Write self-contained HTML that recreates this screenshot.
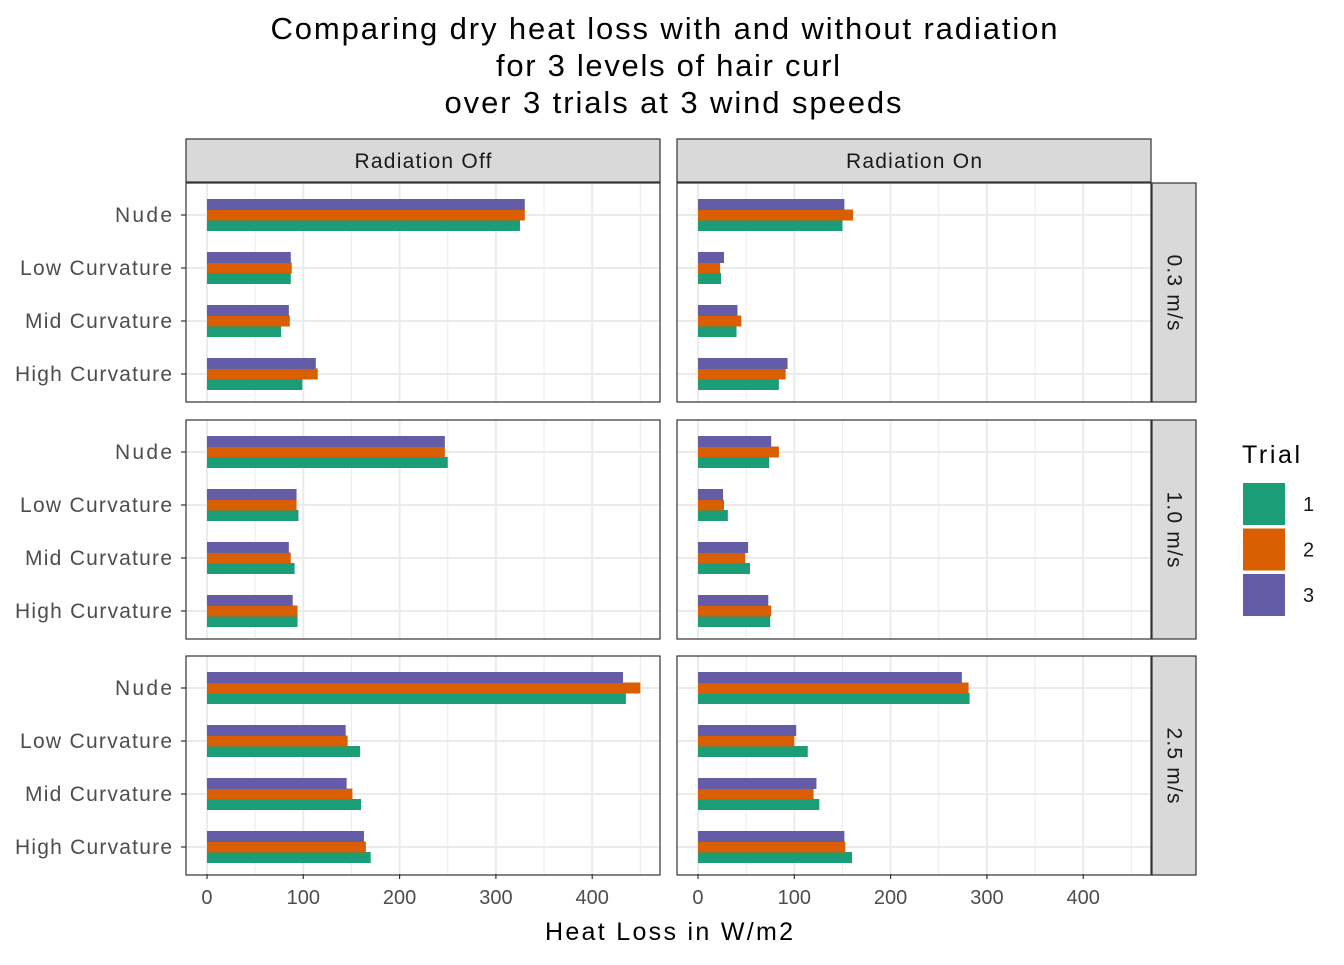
<!DOCTYPE html>
<html><head><meta charset="utf-8"><style>
body{margin:0;background:#fff}
svg{font-family:"Liberation Sans",Arial,sans-serif}
</style></head><body>
<svg id="c" width="1344" height="960" xmlns="http://www.w3.org/2000/svg">
<text x="664" y="39" font-size="31" text-anchor="middle" textLength="787">Comparing dry heat loss with and without radiation</text>
<text x="668" y="76" font-size="31" text-anchor="middle" textLength="344">for 3 levels of hair curl</text>
<text x="673" y="113" font-size="31" text-anchor="middle" textLength="457">over 3 trials at 3 wind speeds</text>
<text x="669" y="940" font-size="25" text-anchor="middle" textLength="248">Heat Loss in W/m2</text>
<text x="1242" y="463" font-size="25" textLength="58">Trial</text>
</svg>
<script>
const categories=["Nude","Low Curvature","Mid Curvature","High Curvature"];
const radiation=["Radiation Off","Radiation On"];
const speeds=["0.3 m/s","1.0 m/s","2.5 m/s"];
const trials=["1","2","3"];
const xTicks=[0,100,200,300,400];
const off03=[[325,87,77,99],[330,88,86,115],[330,87,85,113]];
const on03=[[150,24,40,84],[161,23,45,91],[152,27,41,93]];
const off10=[[250,95,91,94],[247,93,87,94],[247,93,85,89]];
const on10=[[74,31,54,75],[84,27,49,76],[76,26,52,73]];
const off25=[[435,159,160,170],[450,146,151,165],[432,144,145,163]];
const on25=[[282,114,126,160],[281,100,120,153],[274,102,123,152]];
const values=[[off03,on03],[off10,on10],[off25,on25]];
const colors=["#1B9E77","#D95F02","#655CA8"];

const svg=document.getElementById('c');
const NS="http://www.w3.org/2000/svg";
function mk(t,a,p){const e=document.createElementNS(NS,t);for(const k in a)e.setAttribute(k,a[k]);(p||svg).appendChild(e);return e;}
const colX=[186,677], panW=474;
const rowY=[183,420,656], panH=219;
const xMin=-21.8,xMax=470.4;
const labW={"Nude":57,"Low Curvature":152,"Mid Curvature":147,"High Curvature":157};
function xs(col,v){return colX[col]+(v-xMin)/(xMax-xMin)*panW;}
function ys(row,i){return rowY[row]+32+i*53;}

radiation.forEach((r,c)=>{
  const g=mk('g',{});
  
  
  mk('rect',{x:colX[c],y:139,width:panW,height:43,fill:'#D9D9D9',stroke:'#333','stroke-width':1.2},g);
  const t=mk('text',{x:colX[c]+panW/2,y:168,'font-size':21,'text-anchor':'middle',fill:'#1A1A1A',textLength:c?136:137},g);t.textContent=r;
});
speeds.forEach((s,r)=>{
  const g=mk('g',{});
  
  
  mk('rect',{x:1152,y:rowY[r],width:44,height:panH,fill:'#D9D9D9',stroke:'#333','stroke-width':1.2},g);
  const cx=1174,cy=rowY[r]+panH/2;
  const t=mk('text',{x:cx,y:cy,'font-size':21,'text-anchor':'middle','dominant-baseline':'central',fill:'#1A1A1A',textLength:76,transform:`rotate(90 ${cx} ${cy})`},g);t.textContent=s;
});

for(let r=0;r<3;r++)for(let c=0;c<2;c++){
  const g=mk('g',{});
  
  
  mk('rect',{x:colX[c],y:rowY[r],width:panW,height:panH,fill:'#fff'},g);
  for(let v=-50;v<=450;v+=50){
    const x=xs(c,v); if(x<colX[c]||x>colX[c]+panW)continue;
    mk('line',{x1:x,x2:x,y1:rowY[r],y2:rowY[r]+panH,stroke:'#EBEBEB','stroke-width':v%100===0?2:1},g);
  }
  categories.forEach((k,i)=>mk('line',{x1:colX[c],x2:colX[c]+panW,y1:ys(r,i),y2:ys(r,i),stroke:'#EBEBEB','stroke-width':2},g));
  categories.forEach((k,i)=>{
    trials.forEach((t,j)=>{
      const v=values[r][c][j][i];
      const y=ys(r,i)+ (1-j)*10.5 - 5.5;
      const b=mk('rect',{x:xs(c,0),y:y,width:xs(c,v)-xs(c,0),height:11,fill:colors[j]},g);
      
      
    });
  });
  mk('rect',{x:colX[c],y:rowY[r],width:panW,height:panH,fill:'none',stroke:'#333','stroke-width':1.2},g);
  if(c===0){
    categories.forEach((k,i)=>{
      mk('line',{x1:181,x2:186,y1:ys(r,i),y2:ys(r,i),stroke:'#333','stroke-width':1.2},g);
      const t=mk('text',{x:172,y:ys(r,i)+7,'font-size':21,'text-anchor':'end',fill:'#4D4D4D',textLength:labW[k]},g);t.textContent=k;
      
      
    });
  }
  if(r===2){
    xTicks.forEach(v=>{
      const x=xs(c,v);
      mk('line',{x1:x,x2:x,y1:874,y2:879,stroke:'#333','stroke-width':1.2},g);
      const t=mk('text',{x:x,y:904,'font-size':20,'text-anchor':'middle',fill:'#4D4D4D'},g);t.textContent=v;
      
      
    });
  }
}
trials.forEach((t,j)=>{
  const g=mk('g',{});
  
  
  const y=483+j*45.5;
  mk('rect',{x:1243,y:y,width:42,height:42,fill:colors[j]},g);
  const tx=mk('text',{x:1303,y:y+28,'font-size':20,fill:'#1A1A1A'},g);tx.textContent=t;
});
</script>
</body></html>
